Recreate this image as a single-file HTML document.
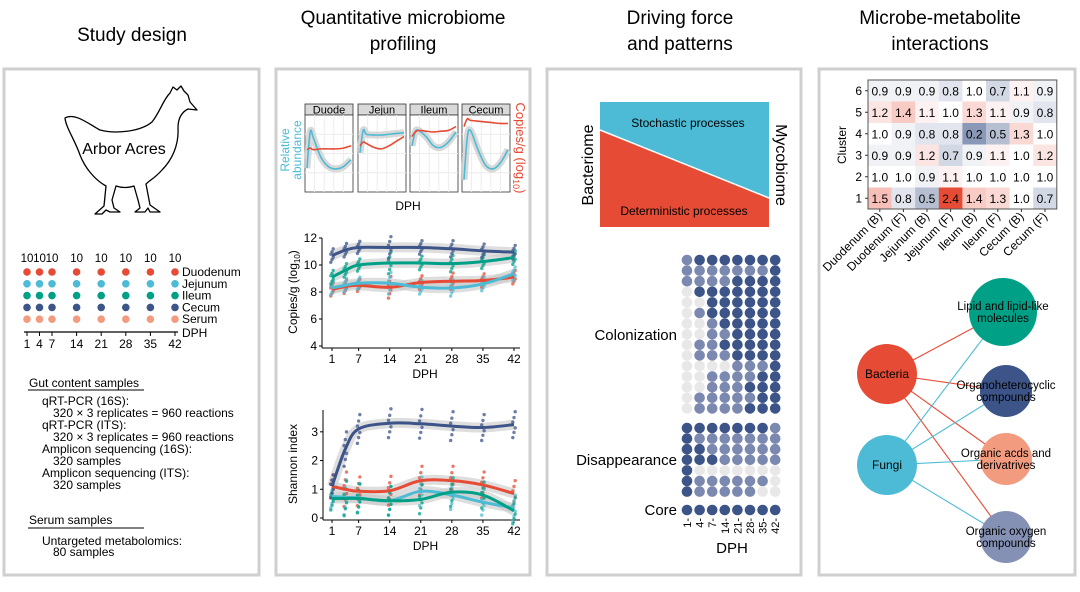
<!DOCTYPE html>
<html><head><meta charset="utf-8">
<style>
html,body{margin:0;padding:0;background:#fff;}
svg{display:block;font-family:"Liberation Sans",Arial,sans-serif;}
</style></head>
<body>
<svg id="fig" width="1080" height="592" viewBox="0 0 1080 592">
<g fill="none" stroke="#cfcfcf" stroke-width="3">
<rect x="4" y="69" width="255" height="506"/>
<rect x="276" y="69" width="254" height="506"/>
<rect x="547" y="69" width="254" height="506"/>
<rect x="819" y="69" width="256" height="506"/>
</g>
<g font-size="19" text-anchor="middle" fill="#000">
<text x="132" y="41">Study design</text>
<text x="403" y="24">Quantitative microbiome</text>
<text x="403" y="50">profiling</text>
<text x="680" y="24">Driving force</text>
<text x="680" y="50">and patterns</text>
<text x="940" y="24">Microbe-metabolite</text>
<text x="940" y="50">interactions</text>
</g>
<path fill="none" stroke="#000" stroke-width="1.3" stroke-linejoin="round"
d="M65,118 C75,112 90,125 100,130 C115,134 140,132 152,122 C160,112 163,100 170,93 L173,87 L177,90 L181,86 L184,91 L188,95 L190,102 L197,110 L188,109 C182,112 178,118 178,128 C179,145 172,160 162,170 C155,178 150,180 146,184 L150,205 L160,212 L150,212 L148,208 L145,212 L135,212 L140,208 L138,200 L134,186 C128,188 122,188 116,186 L112,200 L114,208 L120,212 L110,212 L106,210 L102,214 L95,214 L104,206 L106,186 C95,180 85,168 80,155 C75,140 66,128 65,118 Z"/>
<text x="124" y="154" font-size="16" text-anchor="middle">Arbor Acres</text>
<g id="timeline"></g>
<g font-size="12" fill="#000">
<text x="29" y="387">Gut content samples</text>
<line x1="28" y1="390" x2="144" y2="390" stroke="#000" stroke-width="1"/>
<text x="42" y="405">qRT-PCR (16S):</text>
<text x="53" y="417">320 × 3 replicates = 960 reactions</text>
<text x="42" y="429">qRT-PCR (ITS):</text>
<text x="53" y="441">320 × 3 replicates = 960 reactions</text>
<text x="42" y="453">Amplicon sequencing (16S):</text>
<text x="53" y="465">320 samples</text>
<text x="42" y="477">Amplicon sequencing (ITS):</text>
<text x="53" y="489">320 samples</text>
<text x="29" y="524">Serum samples</text>
<line x1="28" y1="528" x2="144" y2="528" stroke="#000" stroke-width="1"/>
<text x="42" y="545">Untargeted metabolomics:</text>
<text x="53" y="556">80 samples</text>
</g>
<g id="facets"></g>
<g id="copies"></g>
<g id="shannon"></g>
<g>
<polygon points="600,102 769,102 769,198 600,130" fill="#4dbbd5"/>
<polygon points="600,130 769,198 769,227 600,227" fill="#e64b35"/>
<line x1="600" y1="130" x2="769" y2="198" stroke="#fff" stroke-width="1.5"/>
<text x="688" y="127" font-size="12" text-anchor="middle">Stochastic processes</text>
<text x="684" y="215" font-size="12" text-anchor="middle">Deterministic processes</text>
<text transform="translate(593,165) rotate(-90)" font-size="16" text-anchor="middle">Bacteriome</text>
<text transform="translate(776,165) rotate(90)" font-size="16" text-anchor="middle">Mycobiome</text>
</g>
<g id="dots"></g>
<g id="heat"></g>
<g id="net"></g>
</svg>
<script>
const NS="http://www.w3.org/2000/svg";
function mk(parent,tag,attrs,text){const e=document.createElementNS(NS,tag);for(const k in attrs)e.setAttribute(k,attrs[k]);if(text!==undefined)e.textContent=text;parent.appendChild(e);return e;}
const RED="#e64b35",CYAN="#4dbbd5",GREEN="#00a087",NAVY="#3c5488",SALMON="#f39b7f",GREYBLUE="#8491b4";
const days=[1,4,7,14,21,28,35,42];
function smooth(pts){let d="M"+pts[0][0]+","+pts[0][1];for(let i=0;i<pts.length-1;i++){const p0=pts[Math.max(0,i-1)],p1=pts[i],p2=pts[i+1],p3=pts[Math.min(pts.length-1,i+2)];const c1=[p1[0]+(p2[0]-p0[0])/6,p1[1]+(p2[1]-p0[1])/6],c2=[p2[0]-(p3[0]-p1[0])/6,p2[1]-(p3[1]-p1[1])/6];d+=" C"+c1[0]+","+c1[1]+" "+c2[0]+","+c2[1]+" "+p2[0]+","+p2[1];}return d;}

// ---- timeline
const tlSites=["Duodenum","Jejunum","Ileum","Cecum","Serum"];
const tlColors=[RED,CYAN,GREEN,NAVY,SALMON];
const tlN=[10,10,10,10,10,10,10,10];
(function(){const g=document.getElementById("timeline");const tx=d=>d<=7?27+(d-1)*(25/6):52+(d-7)*(123/35);
days.forEach((d,i)=>{const t=mk(g,"text",{x:tx(d),y:262,"font-size":11.5,"text-anchor":"middle"},tlN[i]);
tlSites.forEach((s,j)=>{const c=mk(g,"circle",{cx:tx(d),cy:272+j*11.8,r:3.8,fill:tlColors[j]});});
mk(g,"line",{x1:tx(d),y1:332,x2:tx(d),y2:336,stroke:"#000"});
mk(g,"text",{x:tx(d),y:348,"font-size":12,"text-anchor":"middle"},d);});
tlSites.forEach((s,j)=>{const t=mk(g,"text",{x:182,y:276+j*11.8,"font-size":12},s);});
mk(g,"line",{x1:24,y1:332,x2:178,y2:332,stroke:"#000","stroke-width":1.3});
mk(g,"text",{x:182,y:337,"font-size":12},"DPH");})();

// ---- facets
const facetNames=["Duode","Jejun","Ileum","Cecum"];
const facetRel=[[.31,.78,.7,.45,.33,.3,.33,.42],[.51,.8,.75,.74,.74,.75,.76,.77],[.6,.78,.8,.72,.6,.58,.65,.78],[.16,.7,.8,.55,.35,.3,.38,.55]];
const facetCopies=[[.55,.57,.55,.56,.56,.56,.57,.6],[.6,.65,.63,.58,.56,.6,.66,.72],[.72,.78,.8,.79,.78,.79,.8,.85],[.85,.95,.93,.92,.91,.9,.89,.89]];
(function(){const g=document.getElementById("facets");const x0s=[305,358,410,462],w=48,top=115,bot=192;
facetNames.forEach((n,f)=>{const x0=x0s[f];const fx=d=>x0+2+(d-1)*(w-4)/41,fy=v=>bot-v*(bot-top);
const st=mk(g,"rect",{x:x0,y:104,width:w,height:11,fill:"#d9d9d9",stroke:"#333","stroke-width":0.8});
mk(g,"text",{x:x0+w/2,y:113.5,"font-size":11,"text-anchor":"middle"},n);
mk(g,"rect",{x:x0,y:top,width:w,height:bot-top,fill:"#fff",stroke:"#333","stroke-width":0.8});
for(let k=1;k<5;k++)mk(g,"line",{x1:x0+k*w/5,y1:top,x2:x0+k*w/5,y2:bot,stroke:"#ececec"});
for(let k=1;k<4;k++)mk(g,"line",{x1:x0,y1:top+k*(bot-top)/4,x2:x0+w,y2:top+k*(bot-top)/4,stroke:"#ececec"});
const pr=days.map((d,i)=>[fx(d),fy(facetRel[f][i])]);
mk(g,"path",{d:smooth(pr),fill:"none",stroke:"#cfcfcf","stroke-width":7,opacity:.8});
const l1=mk(g,"path",{d:smooth(pr),fill:"none",stroke:CYAN,"stroke-width":1.6});
const pc=days.map((d,i)=>[fx(d),fy(facetCopies[f][i])]);
const l2=mk(g,"path",{d:smooth(pc),fill:"none",stroke:RED,"stroke-width":1.6});});
mk(g,"text",{transform:"translate(289,150) rotate(-90)","font-size":12,fill:CYAN,"text-anchor":"middle"},"Relative");
mk(g,"text",{transform:"translate(301,150) rotate(-90)","font-size":12,fill:CYAN,"text-anchor":"middle"},"abundance");
const t=mk(g,"text",{transform:"translate(516,148) rotate(90)","font-size":13,fill:RED,"text-anchor":"middle"},"Copies/g (log");
mk(t,"tspan",{"font-size":9,dy:3},"10");mk(t,"tspan",{dy:-3},")");
mk(g,"text",{x:408,y:210,"font-size":12,"text-anchor":"middle"},"DPH");})();

// ---- line charts
const copiesTicks=[4,6,8,10,12];
const copiesDuodenum=[8.2,8.4,8.5,8.35,8.7,8.8,8.85,9.1];
const copiesJejunum=[8.3,8.5,8.65,8.65,8.35,8.3,8.6,9.35];
const copiesIleum=[9.1,9.6,10.0,10.15,10.15,10.1,10.25,10.55];
const copiesCecum=[10.7,11.1,11.3,11.3,11.3,11.2,11.05,10.95];
const copiesSpread=[0.5,0.5,0.45,0.8,0.5,0.6,0.5,0.5];
const xTickDays=[1,7,14,21,28,35,42];
const shannonTicks=[0,1,2,3];
const shannonDuodenum=[1.1,1.0,0.93,0.95,1.3,1.3,1.15,0.85];
const shannonJejunum=[0.75,0.72,0.7,0.6,0.93,0.8,0.55,0.35];
const shannonIleum=[0.68,0.68,0.68,0.6,0.65,0.9,0.8,0.25];
const shannonCecum=[1.1,2.4,3.1,3.3,3.28,3.2,3.15,3.25];
const shannonSpread=[0.4,0.6,0.5,0.5,0.5,0.5,0.45,0.45];
function lineChart(gid,x0,x1,top,bot,ymin,ymax,ticks,series,spread,name){
const g=document.getElementById(gid);const sx=d=>332+(d-1)*(182/41),sy=v=>bot-(v-ymin)/(ymax-ymin)*(bot-top);
mk(g,"path",{d:`M${x0},${top} V${bot+2} M${x0},${bot+2} H${x1}`,stroke:"#000",fill:"none","stroke-width":1});
ticks.forEach(t=>{mk(g,"line",{x1:x0-3,y1:sy(t),x2:x0,y2:sy(t),stroke:"#000"});const tl=mk(g,"text",{x:x0-5,y:sy(t)+4,"font-size":12,"text-anchor":"end"},t);});
xTickDays.forEach(d=>{mk(g,"line",{x1:sx(d),y1:bot+2,x2:sx(d),y2:bot+5,stroke:"#000"});const tl=mk(g,"text",{x:sx(d),y:bot+17,"font-size":12,"text-anchor":"middle"},d);});
series.forEach(s=>{const pts=days.map((d,i)=>[sx(d),sy(s.v[i])]);
mk(g,"path",{d:smooth(pts),fill:"none",stroke:"#c8c8c8","stroke-width":10,opacity:.6});});
series.forEach(s=>{days.forEach((d,i)=>{[-1,-0.6,-0.25,0.2,0.55,1].forEach((k,j)=>{const c=mk(g,"circle",{cx:sx(d)+((j%3)-1)*1.2,cy:sy(s.v[i]+k*spread[i]),r:1.7,fill:s.c,opacity:.75});});});});
series.forEach(s=>{const pts=days.map((d,i)=>[sx(d),sy(s.v[i])]);const p=mk(g,"path",{d:smooth(pts),fill:"none",stroke:s.c,"stroke-width":3});});
mk(g,"text",{x:(x0+x1)/2+4,y:bot+32,"font-size":12,"text-anchor":"middle"},"DPH");
return g;}
const cg=lineChart("copies",322,520,238,346,4,12,copiesTicks,[{n:"duodenum",c:RED,v:copiesDuodenum},{n:"jejunum",c:CYAN,v:copiesJejunum},{n:"ileum",c:GREEN,v:copiesIleum},{n:"cecum",c:NAVY,v:copiesCecum}],copiesSpread,"copies");
{const t=mk(cg,"text",{transform:"translate(297,292) rotate(-90)","font-size":12,"text-anchor":"middle"},"Copies/g (log");mk(t,"tspan",{"font-size":8,dy:3},"10");mk(t,"tspan",{dy:-3},")");}
const sg=lineChart("shannon",323,520,410,518,0,3.76,shannonTicks,[{n:"duodenum",c:RED,v:shannonDuodenum},{n:"jejunum",c:CYAN,v:shannonJejunum},{n:"ileum",c:GREEN,v:shannonIleum},{n:"cecum",c:NAVY,v:shannonCecum}],shannonSpread,"shannon");
mk(sg,"text",{transform:"translate(297,464) rotate(-90)","font-size":12,"text-anchor":"middle"},"Shannon index");

// ---- dot matrix
const colonization=[[1,2,2,2,2,2,2,2],[1,1,1,1,1,1,1,2],[1,1,1,1,2,2,2,2],[0,2,2,2,2,2,2,2],[0,0,2,2,2,2,2,2],[0,1,2,2,2,2,2,2],[0,0,1,2,2,2,2,2],[0,0,1,1,2,2,2,2],[0,1,1,2,2,2,2,2],[0,1,1,1,2,2,2,2],[0,0,0,0,1,1,1,2],[0,0,1,1,1,1,2,2],[0,0,1,1,1,2,2,2],[0,1,1,1,1,1,2,2],[0,1,1,1,1,2,2,2]];
const disappearance=[[2,2,2,2,2,2,2,1],[2,1,1,1,1,1,1,1],[2,2,1,1,1,1,1,1],[2,2,2,1,1,1,1,1],[2,0,0,0,0,0,0,0],[2,1,1,1,1,1,1,0],[2,1,1,1,1,1,0,0]];
const core=[[2,2,2,2,2,2,2,2]];
(function(){const g=document.getElementById("dots");const lv=["#e8e8e8","#7b88b0","#3c5488"];const cx=i=>687+i*12.6;
function block(rows,y0,label,ly){rows.forEach((r,ri)=>r.forEach((v,ci)=>{const c=mk(g,"circle",{cx:cx(ci),cy:y0+ri*10.6,r:5.3,fill:lv[v]});}));
const t=mk(g,"text",{x:677,y:ly,"font-size":15,"text-anchor":"end"},label);}
block(colonization,260,"Colonization",340);block(disappearance,428,"Disappearance",465);block(core,510,"Core",515);
days.forEach((d,i)=>{mk(g,"text",{transform:`translate(${cx(i)+4},518) rotate(-90)`,"font-size":11,"text-anchor":"end"},d+"-");});
mk(g,"text",{x:732,y:553,"font-size":15,"text-anchor":"middle"},"DPH");})();

// ---- heatmap
const hmCols=["Duodenum (B)","Duodenum (F)","Jejunum (B)","Jejunum (F)","Ileum (B)","Ileum (F)","Cecum (B)","Cecum (F)"];
const hmRows=["6","5","4","3","2","1"];
const hmValues=[[0.9,0.9,0.9,0.8,1.0,0.7,1.1,0.9],[1.2,1.4,1.1,1.0,1.3,1.1,0.9,0.8],[1.0,0.9,0.8,0.8,0.2,0.5,1.3,1.0],[0.9,0.9,1.2,0.7,0.9,1.1,1.0,1.2],[1.0,1.0,0.9,1.1,1.0,1.0,1.0,1.0],[1.5,0.8,0.5,2.4,1.4,1.3,1.0,0.7]];
(function(){const g=document.getElementById("heat");const x0=868,y0=80,cw=23.6,ch=21.5;
function mix(c,t){const r=parseInt(c.slice(1,3),16),gg=parseInt(c.slice(3,5),16),b=parseInt(c.slice(5,7),16);return `rgb(${Math.round(255+(r-255)*t)},${Math.round(255+(gg-255)*t)},${Math.round(255+(b-255)*t)})`;}
hmValues.forEach((row,ri)=>row.forEach((v,ci)=>{const col=v<1?mix(NAVY,Math.min(1,(1-v)*0.75)):mix(RED,Math.min(1,(v-1)/1.4));
const r=mk(g,"rect",{x:x0+ci*cw,y:y0+ri*ch,width:cw+0.3,height:ch+0.3,fill:col});
mk(g,"text",{x:x0+ci*cw+cw/2,y:y0+ri*ch+ch/2+4.5,"font-size":12,"text-anchor":"middle"},v.toFixed(1));}));
mk(g,"rect",{x:x0,y:y0,width:cw*8,height:ch*6,fill:"none",stroke:"#555","stroke-width":1});
hmRows.forEach((r,ri)=>{mk(g,"text",{x:x0-6,y:y0+ri*ch+ch/2+4,"font-size":12,"text-anchor":"end"},r);mk(g,"line",{x1:x0-3,y1:y0+ri*ch+ch/2,x2:x0,y2:y0+ri*ch+ch/2,stroke:"#333"});});
hmCols.forEach((c,ci)=>{const x=x0+ci*cw+cw/2;mk(g,"line",{x1:x,y1:y0+ch*6,x2:x,y2:y0+ch*6+3,stroke:"#333"});
const t=mk(g,"text",{transform:`translate(${x+3},${y0+ch*6+8}) rotate(-45)`,"font-size":12,"text-anchor":"end"},c);});
mk(g,"text",{transform:"translate(846,145) rotate(-90)","font-size":12,"text-anchor":"middle"},"Cluster");})();

// ---- network
const netNodes=[{n:"Bacteria",x:887,y:374,r:30,c:RED},{n:"Fungi",x:887,y:465,r:30,c:CYAN},{n:"Lipid and lipid-like|molecules",x:1003,y:312,r:34,c:GREEN},{n:"Organoheterocyclic|compounds",x:1006,y:391,r:26,c:NAVY},{n:"Organic acds and|derivatrives",x:1006,y:459,r:26,c:SALMON},{n:"Organic oxygen|compounds",x:1006,y:537,r:26,c:GREYBLUE}];
const netEdges=[[0,2],[0,3],[0,4],[0,5],[1,2],[1,3],[1,4],[1,5]];
(function(){const g=document.getElementById("net");
netEdges.forEach(e=>{const a=netNodes[e[0]],b=netNodes[e[1]];const l=mk(g,"line",{x1:a.x,y1:a.y,x2:b.x,y2:b.y,stroke:a.c,"stroke-width":1.1});});
netNodes.forEach(nd=>{const c=mk(g,"circle",{cx:nd.x,cy:nd.y,r:nd.r,fill:nd.c});});
netNodes.forEach(nd=>{const parts=nd.n.split("|");parts.forEach((p,i)=>{mk(g,"text",{x:nd.x,y:nd.y+4+(i-(parts.length-1)/2)*12,"font-size":parts.length>1?11.5:12,"text-anchor":"middle"},p);});});})();
</script>
</body></html>
